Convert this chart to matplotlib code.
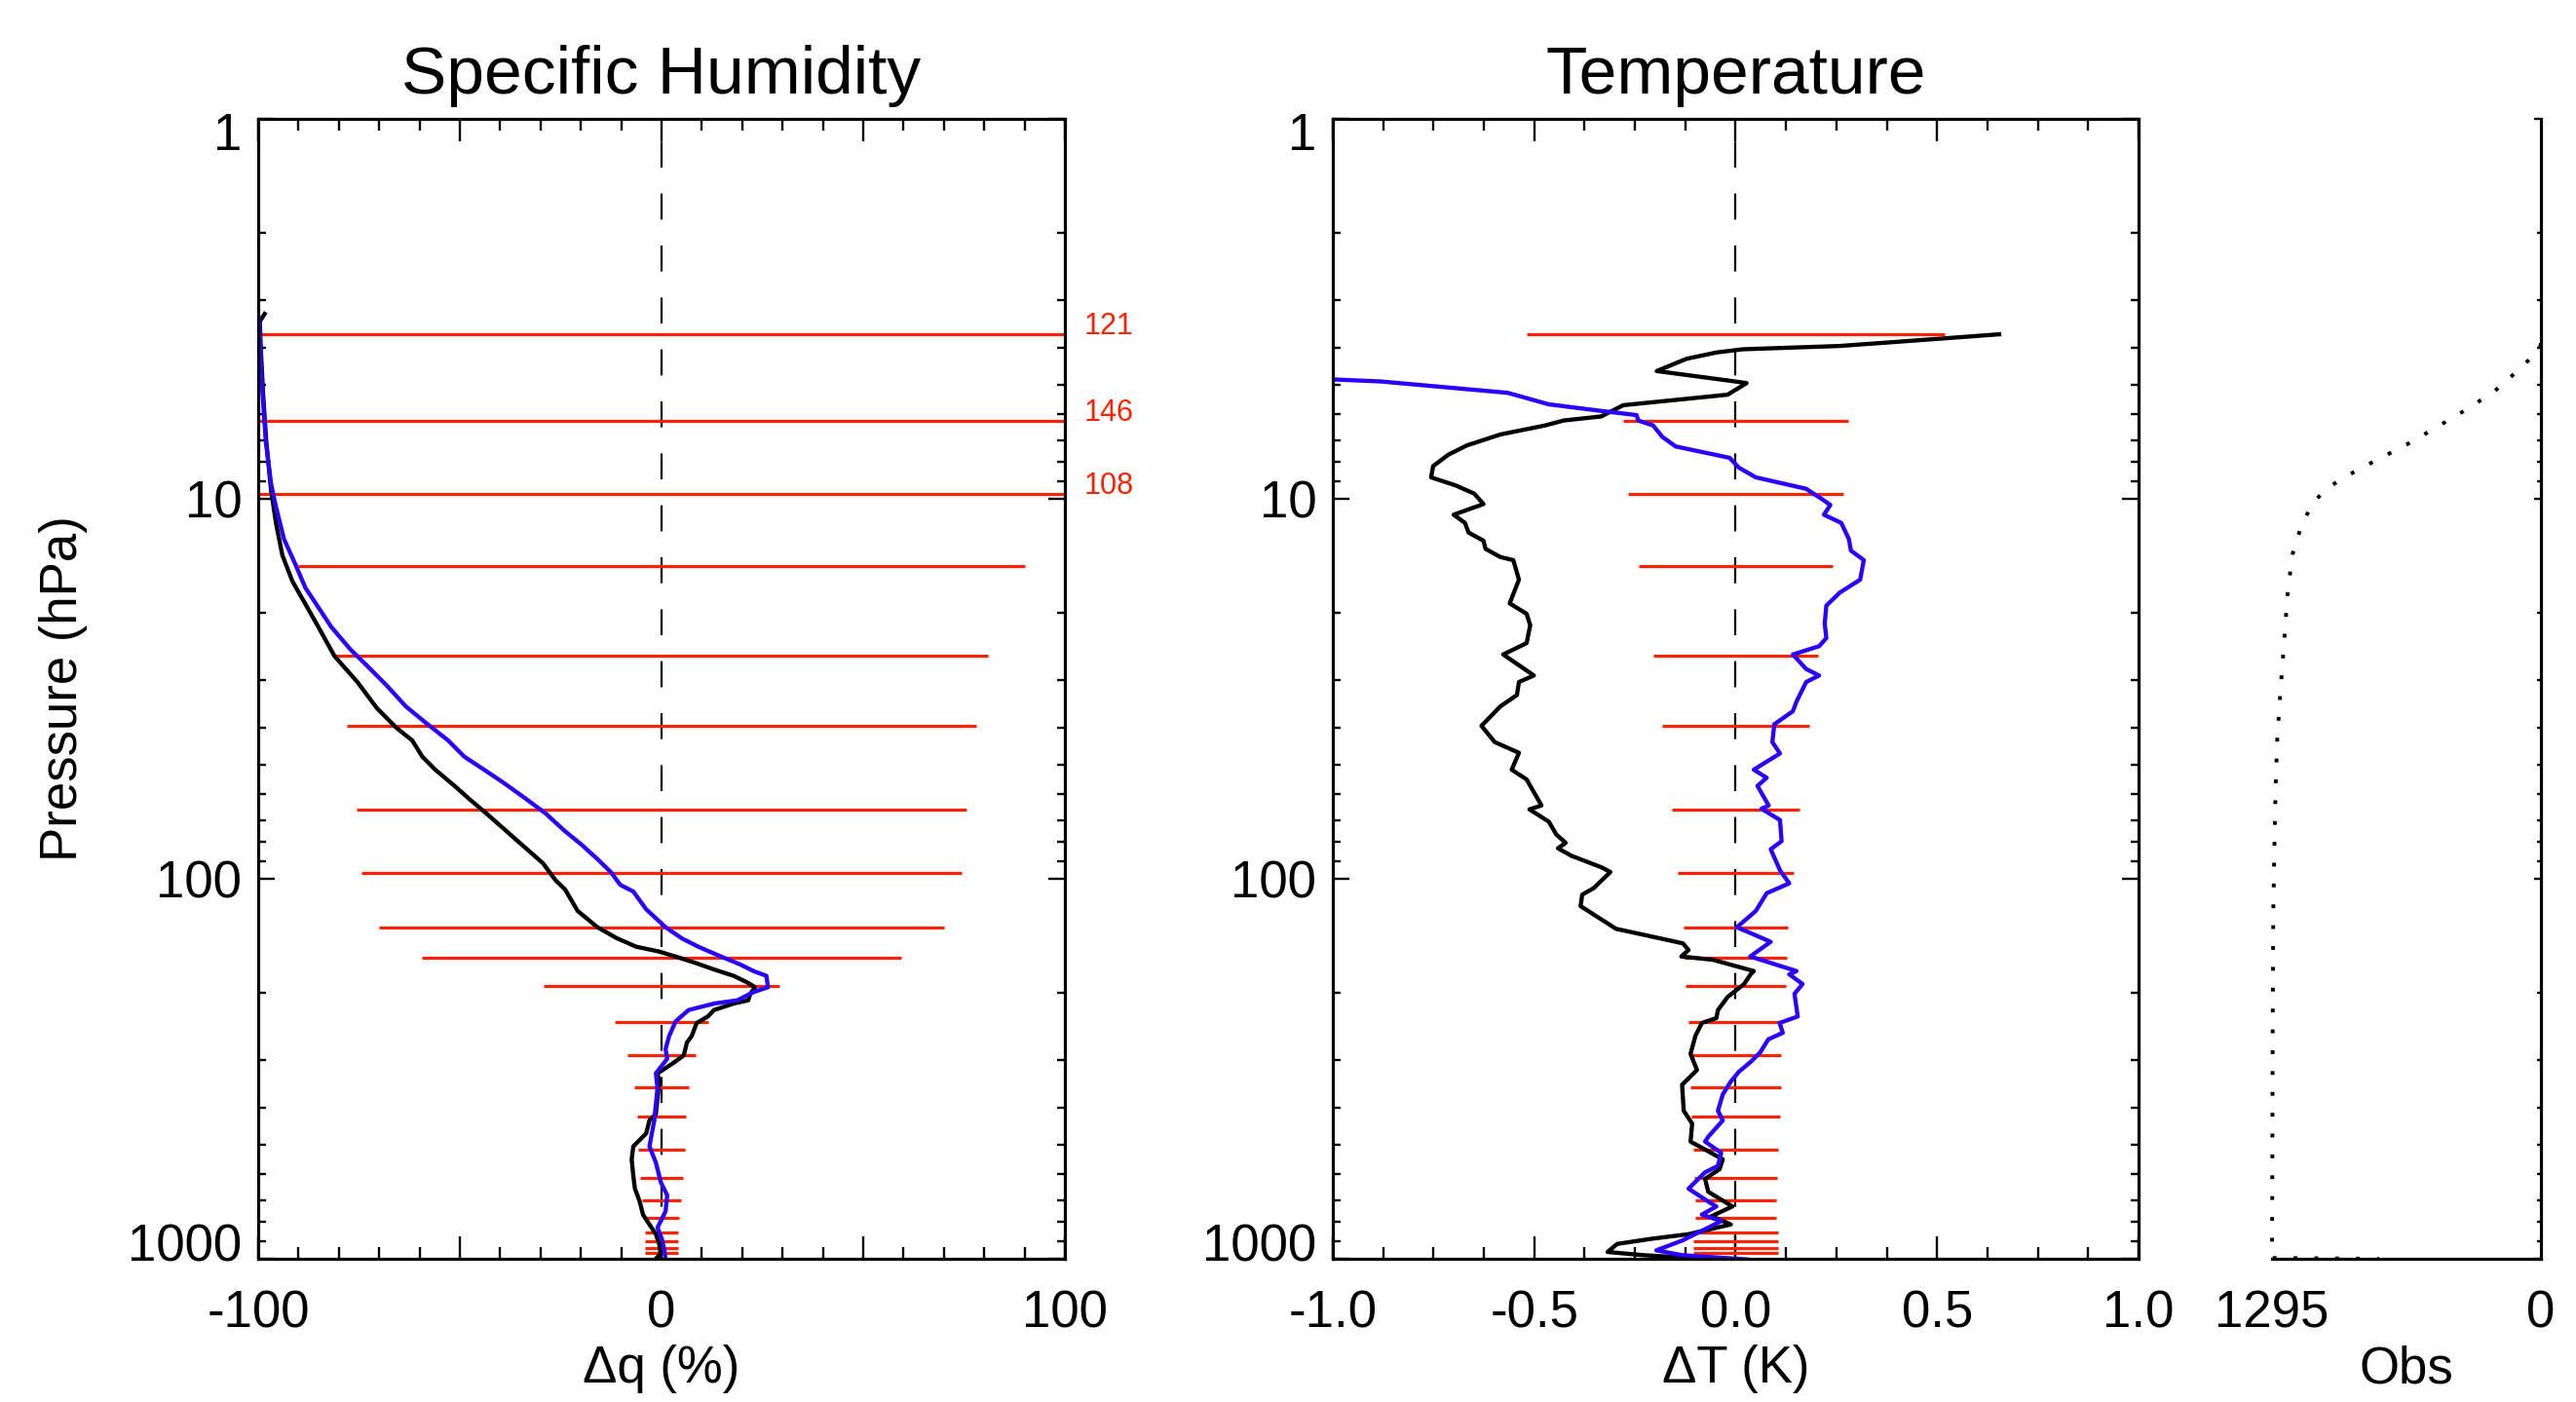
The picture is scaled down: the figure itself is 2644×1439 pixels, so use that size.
import numpy as np
import matplotlib; matplotlib.use("Agg")
import matplotlib.pyplot as plt
import matplotlib.transforms as mtransforms
from matplotlib.ticker import MultipleLocator, LogLocator, NullFormatter

plt.rcParams['font.family'] = ['Liberation Sans', 'DejaVu Sans']

# levels of the red spread bars (hPa) and their half widths
bar_p = [3.69, 6.22, 9.73, 15.0, 25.8, 39.6, 65.7, 96.3, 134.6, 161, 192, 237.5,
         291.4, 354.6, 422, 517, 612, 703, 780, 852, 899, 934.5, 968]
bar_dq = [121, 146, 108, 90, 81, 78, 75.5, 74.5, 70, 59.5, 29.2, 11.5,
          8.5, 6.8, 6.1, 5.7, 5.25, 4.85, 4.25, 4.1, 4.1, 4.1, 4.1]
bar_dt = [0.519, 0.279, 0.268, 0.240, 0.205, 0.182, 0.159, 0.143, 0.130, 0.127, 0.125, 0.117,
          0.113, 0.113, 0.110, 0.105, 0.102, 0.101, 0.101, 0.105, 0.105, 0.105, 0.105]

# specific humidity difference (%), black and blue profiles
p_q_black = [3.26, 3.41, 3.92, 5.26, 7.07, 9.50, 11.57, 14.08, 16.49, 18.92, 21.72, 25.92,
             30.35, 35.52, 39.99, 43.24, 47.71, 51.62, 56.96, 61.62, 67.06, 78.13, 91.0, 100.8,
             106.7, 121.5, 134.1, 143.3, 150.9, 155.4, 160.1, 166.2, 173.2, 180.1, 187.3, 192.9,
             200.7, 208.8, 212.9, 221.5, 230.3, 239.6, 259.1, 269.6, 291.6, 306.4, 325.2, 341.5,
             376.9, 415.7, 432.5, 467.7, 506.1, 547.5, 604.4, 653.8, 707.2, 765.2, 812.1, 861.4,
             913.8, 969.2, 1000]
dq_black = [-98.4, -99.6, -99.4, -98.8, -98.0, -96.8, -95.6, -94.0, -91.5, -88.3, -85.1, -81.1,
            -75.4, -70.6, -65.8, -61.8, -59.3, -56.1, -51.3, -47.7, -43.6, -36.5, -29.4, -26.3,
            -23.9, -20.8, -15.9, -11.1, -6.3, -0.6, 3.4, 8.2, 13.0, 17.9, 21.2, 23.2,
            22.0, 21.5, 17.9, 13.0, 11.5, 8.7, 7.5, 6.3, 5.5, 2.7, -1.0, -0.6,
            -1.0, -1.4, -3.0, -3.8, -7.0, -7.4, -7.0, -6.6, -5.4, -4.6, -3.0, -1.4,
            -0.6, -0.2, -1.4]
p_q_blue = [3.35, 4.77, 7.07, 9.14, 10.48, 12.76, 14.94, 17.14, 19.29, 21.72, 24.93, 27.50,
            30.94, 35.17, 38.81, 43.24, 47.71, 51.62, 55.84, 61.62, 67.33, 75.0, 81.2, 88.7,
            95.96, 103.8, 108.0, 120.3, 134.1, 143.6, 150.9, 160.1, 168.2, 174.9, 180.1, 192.9,
            198.7, 208.8, 212.9, 221.5, 237.2, 259.1, 280.5, 297.6, 325.2, 355.2, 432.5, 506.1,
            558.4, 628.4, 680.2, 750.2, 827.9, 895.6, 950.2, 1000]
dq_blue = [-99.8, -99.2, -98.1, -96.8, -95.6, -93.6, -90.7, -88.3, -85.1, -81.9, -77.1, -73.0,
           -68.2, -63.4, -58.5, -52.9, -48.9, -44.0, -39.2, -33.6, -28.7, -23.9, -19.9, -15.9,
           -12.6, -10.2, -7.0, -3.8, 1.0, 5.1, 9.1, 14.7, 19.6, 22.8, 26.0, 26.4,
           22.8, 18.8, 13.1, 6.7, 3.5, 1.9, 1.0, 1.4, -1.4, -1.0, -1.8, -3.0,
           -1.4, -0.2, 1.4, 1.0, -1.0, 0.2, 0.7, 1.0]

# temperature difference (K)
p_t_black = [3.69, 3.84, 3.96, 4.04, 4.12, 4.28, 4.61, 4.91, 4.96, 5.32,
             5.67, 6.07, 6.22, 6.41, 6.77, 7.24, 7.65, 8.20, 8.78, 9.22,
             9.69, 10.32, 11.01, 11.57, 12.27, 12.89, 13.54, 14.23, 14.50, 16.32,
             18.84, 20.07, 21.51, 23.97, 25.68, 29.17, 30.35, 32.83, 35.17, 39.58,
             43.68, 46.6, 51.62, 54.76, 64.12, 65.65, 70.7, 76.5, 80.4, 83.1,
             86.96, 93.2, 95.96, 105.9, 110.1, 118.0, 135.4, 143.6, 147.9, 153.9,
             160.1, 163.3, 174.9, 178.4, 189.2, 204.6, 221.5, 232.6, 239.6, 259.1,
             288.9, 318.6, 348.3, 407.6, 441.0, 491.5, 521.4, 547.5, 581.0, 616.2,
             666.4, 728.2, 772.6, 812.1, 861.4, 887.2, 913.8, 959.6, 978.4, 1004]
dt_black = [0.654, 0.432, 0.258, 0.017, -0.048, -0.122, -0.196, -0.001, 0.027, -0.020,
            -0.279, -0.334, -0.427, -0.473, -0.584, -0.668, -0.713, -0.751, -0.756, -0.695,
            -0.649, -0.626, -0.700, -0.672, -0.663, -0.626, -0.621, -0.584, -0.552, -0.538,
            -0.561, -0.519, -0.510, -0.519, -0.577, -0.501, -0.538, -0.543, -0.584, -0.631,
            -0.598, -0.538, -0.556, -0.519, -0.482, -0.512, -0.464, -0.445, -0.422, -0.441,
            -0.408, -0.334, -0.311, -0.353, -0.381, -0.385, -0.297, -0.186, -0.131, -0.117,
            -0.135, -0.057, 0.045, 0.037, 0.021, -0.020, -0.044, -0.048, -0.084, -0.100,
            -0.112, -0.096, -0.133, -0.129, -0.108, -0.112, -0.068, -0.032, -0.040, -0.076,
            -0.068, -0.008, -0.060, -0.012, -0.117, -0.213, -0.294, -0.318, -0.229, -0.052]
p_t_blue = [4.75, 4.84, 4.91, 5.26, 5.64, 5.87, 6.02, 6.22, 6.41, 6.87,
            7.28, 7.80, 8.28, 8.78, 9.41, 9.98, 10.38, 11.01, 11.57, 12.76,
            13.68, 14.50, 16.32, 17.66, 19.11, 21.29, 23.26, 24.43, 25.68, 28.05,
            29.17, 30.35, 34.15, 36.22, 39.19, 43.68, 46.77, 51.62, 54.21, 56.96,
            64.12, 65.39, 70.04, 79.59, 83.62, 94.99, 102.8, 109.1, 121.5, 134.1,
            146.5, 160.1, 174.9, 178.4, 189.2, 200.7, 230.3, 239.6, 254.2, 264.5,
            286.1, 303.4, 321.9, 341.5, 369.3, 407.6, 432.5, 477.2, 491.5, 526.3,
            569.5, 592.3, 653.8, 707.2, 728.2, 765.2, 795.7, 827.9, 895.6, 950.2,
            978.4, 1004]
dt_blue = [-1.068, -1.019, -0.881, -0.566, -0.464, -0.334, -0.246, -0.242, -0.205, -0.182,
           -0.149, -0.015, 0.008, 0.050, 0.175, 0.212, 0.235, 0.219, 0.262, 0.281,
           0.286, 0.318, 0.309, 0.258, 0.225, 0.221, 0.225, 0.207, 0.142, 0.175,
           0.207, 0.175, 0.151, 0.142, 0.096, 0.091, 0.110, 0.045, 0.077, 0.054,
           0.082, 0.064, 0.110, 0.114, 0.087, 0.110, 0.133, 0.077, 0.050, 0.003,
           0.087, 0.036, 0.151, 0.133, 0.166, 0.146, 0.154, 0.109, 0.117, 0.081,
           0.061, 0.037, 0.008, -0.012, -0.032, -0.044, -0.032, -0.068, -0.076, -0.036,
           -0.044, -0.076, -0.117, -0.068, -0.048, -0.084, -0.036, -0.068, -0.133, -0.197,
           -0.133, 0.029]

# number of observations per level
p_obs = [3.9, 4.01, 4.46, 5.22, 5.85, 6.50, 7.20, 7.97, 8.85, 9.47, 10.29, 11.87, 13.91,
         17.42, 22.70, 31.85, 43.03, 58.17, 84.77, 123.6, 262.2, 752.9, 995, 1000]
n_obs = [0, 6, 84, 225, 366, 507, 647, 804, 960, 1038, 1101, 1156, 1195,
         1219, 1234, 1254, 1270, 1278, 1284, 1289, 1292, 1294, 1295, 780]
n_max = 1295

C_RED = "#ff2200"; C_BLUE = "#2a00ff"; C_BLK = "#000000"
FS = 38
LW_CURVE = 3.1; LW_BAR = 2.3; LW_AX = 2.3

fig = plt.figure(figsize=(26.44, 14.39), dpi=100)
W, H = 2644, 1439
def box(l, r, t=122, b=1292):
    return [l / W, 1 - b / H, (r - l) / W, (b - t) / H]
ax1 = fig.add_axes(box(265, 1093))
ax2 = fig.add_axes(box(1368, 2195))
ax3 = fig.add_axes(box(2332, 2608))

def style_profile(ax):
    ax.set_yscale('log')
    ax.set_ylim(1000, 1)
    ax.set_yticks([1, 10, 100, 1000], labels=['1', '10', '100', '1000'])
    ax.yaxis.set_minor_locator(LogLocator(base=10, subs=np.arange(2, 10), numticks=20))
    ax.yaxis.set_minor_formatter(NullFormatter())
    for s in ax.spines.values():
        s.set_linewidth(LW_AX)
    ax.tick_params(axis='x', which='major', direction='in', length=16.5, width=1.7,
                   top=True, bottom=True, pad=23, labelsize=FS)
    ax.tick_params(axis='x', which='minor', direction='in', length=8.5, width=1.7,
                   top=True, bottom=True)
    ax.tick_params(axis='y', which='major', direction='in', length=12, width=1.7,
                   left=True, right=True, pad=12, labelsize=FS)
    ax.tick_params(axis='y', which='minor', direction='in', length=6, width=1.7,
                   left=True, right=True)
    ax.plot([0, 0], [1000, 1], color=C_BLK, lw=1.6, ls=(0, (12, 12)))

# --- specific humidity
style_profile(ax1)
ax1.set_xlim(-100, 100)
ax1.set_xticks([-100, -50, 0, 50, 100], labels=['-100', '', '0', '', '100'])
ax1.xaxis.set_minor_locator(MultipleLocator(10))
ax1.hlines(bar_p, -np.array(bar_dq), np.array(bar_dq), color=C_RED, lw=LW_BAR)
for p, hw in zip(bar_p, bar_dq):
    if hw > 100:
        ax1.text(1.024, p, f"{hw:.0f}", transform=ax1.get_yaxis_transform(),
                 color=C_RED, fontsize=22, ha='left', va='baseline')
ax1.plot(dq_black, p_q_black, color=C_BLK, lw=LW_CURVE)
ax1.plot(dq_blue, p_q_blue, color=C_BLUE, lw=LW_CURVE)
ax1.set_title("Specific Humidity", fontsize=50, pad=19)

# --- temperature
style_profile(ax2)
ax2.set_xlim(-1, 1)
ax2.set_xticks([-1, -0.5, 0, 0.5, 1], labels=['-1.0', '-0.5', '0.0', '0.5', '1.0'])
ax2.xaxis.set_minor_locator(MultipleLocator(0.125))
ax2.hlines(bar_p, -np.array(bar_dt), np.array(bar_dt), color=C_RED, lw=LW_BAR)
ax2.plot(dt_black, p_t_black, color=C_BLK, lw=LW_CURVE)
ax2.plot(dt_blue, p_t_blue, color=C_BLUE, lw=LW_CURVE)
ax2.set_title("Temperature", fontsize=50, pad=19)

# --- observation count
ax3.set_yscale('log')
ax3.set_ylim(1000, 1)
ax3.set_xlim(n_max, 0)
ax3.set_xticks([n_max, 0], labels=[str(n_max), '0'])
ax3.set_yticks([1, 10, 100, 1000])
ax3.yaxis.set_minor_locator(LogLocator(base=10, subs=np.arange(2, 10), numticks=20))
ax3.yaxis.set_minor_formatter(NullFormatter())
ax3.spines['top'].set_visible(False)
ax3.spines['left'].set_visible(False)
ax3.spines['right'].set_linewidth(LW_AX)
ax3.spines['bottom'].set_linewidth(LW_AX)
ax3.tick_params(axis='x', length=0, pad=23, labelsize=FS)
ax3.tick_params(axis='y', which='major', direction='in', length=5, width=1.7,
                left=False, right=True, labelleft=False, labelright=False)
ax3.tick_params(axis='y', which='minor', direction='in', length=3, width=1.7,
                left=False, right=True)
ax3.plot(n_obs, p_obs, color=C_BLK, lw=2.8, ls=(0, (1, 4.5)), clip_on=False)

# axis titles
for ax, lab in [(ax1, "\u0394q (%)"), (ax2, "\u0394T (K)"), (ax3, "Obs")]:
    pos = ax.get_position()
    fig.text(pos.x0 + pos.width / 2, 1 - 1419 / H, lab, fontsize=FS, ha='center', va='baseline')
fig.text(65 / W, 1 - 707 / H, "Pressure (hPa)", fontsize=FS, rotation=90, ha='center', va='center')

# end labels of the pressure axis sit inside the frame
for ax in (ax1, ax2):
    labs = ax.yaxis.get_majorticklabels()
    labs[0].set_transform(labs[0].get_transform() + mtransforms.ScaledTranslation(0, -0.12, fig.dpi_scale_trans))
    labs[-1].set_transform(labs[-1].get_transform() + mtransforms.ScaledTranslation(0, 0.17, fig.dpi_scale_trans))

fig.savefig("out.png", dpi=100)
